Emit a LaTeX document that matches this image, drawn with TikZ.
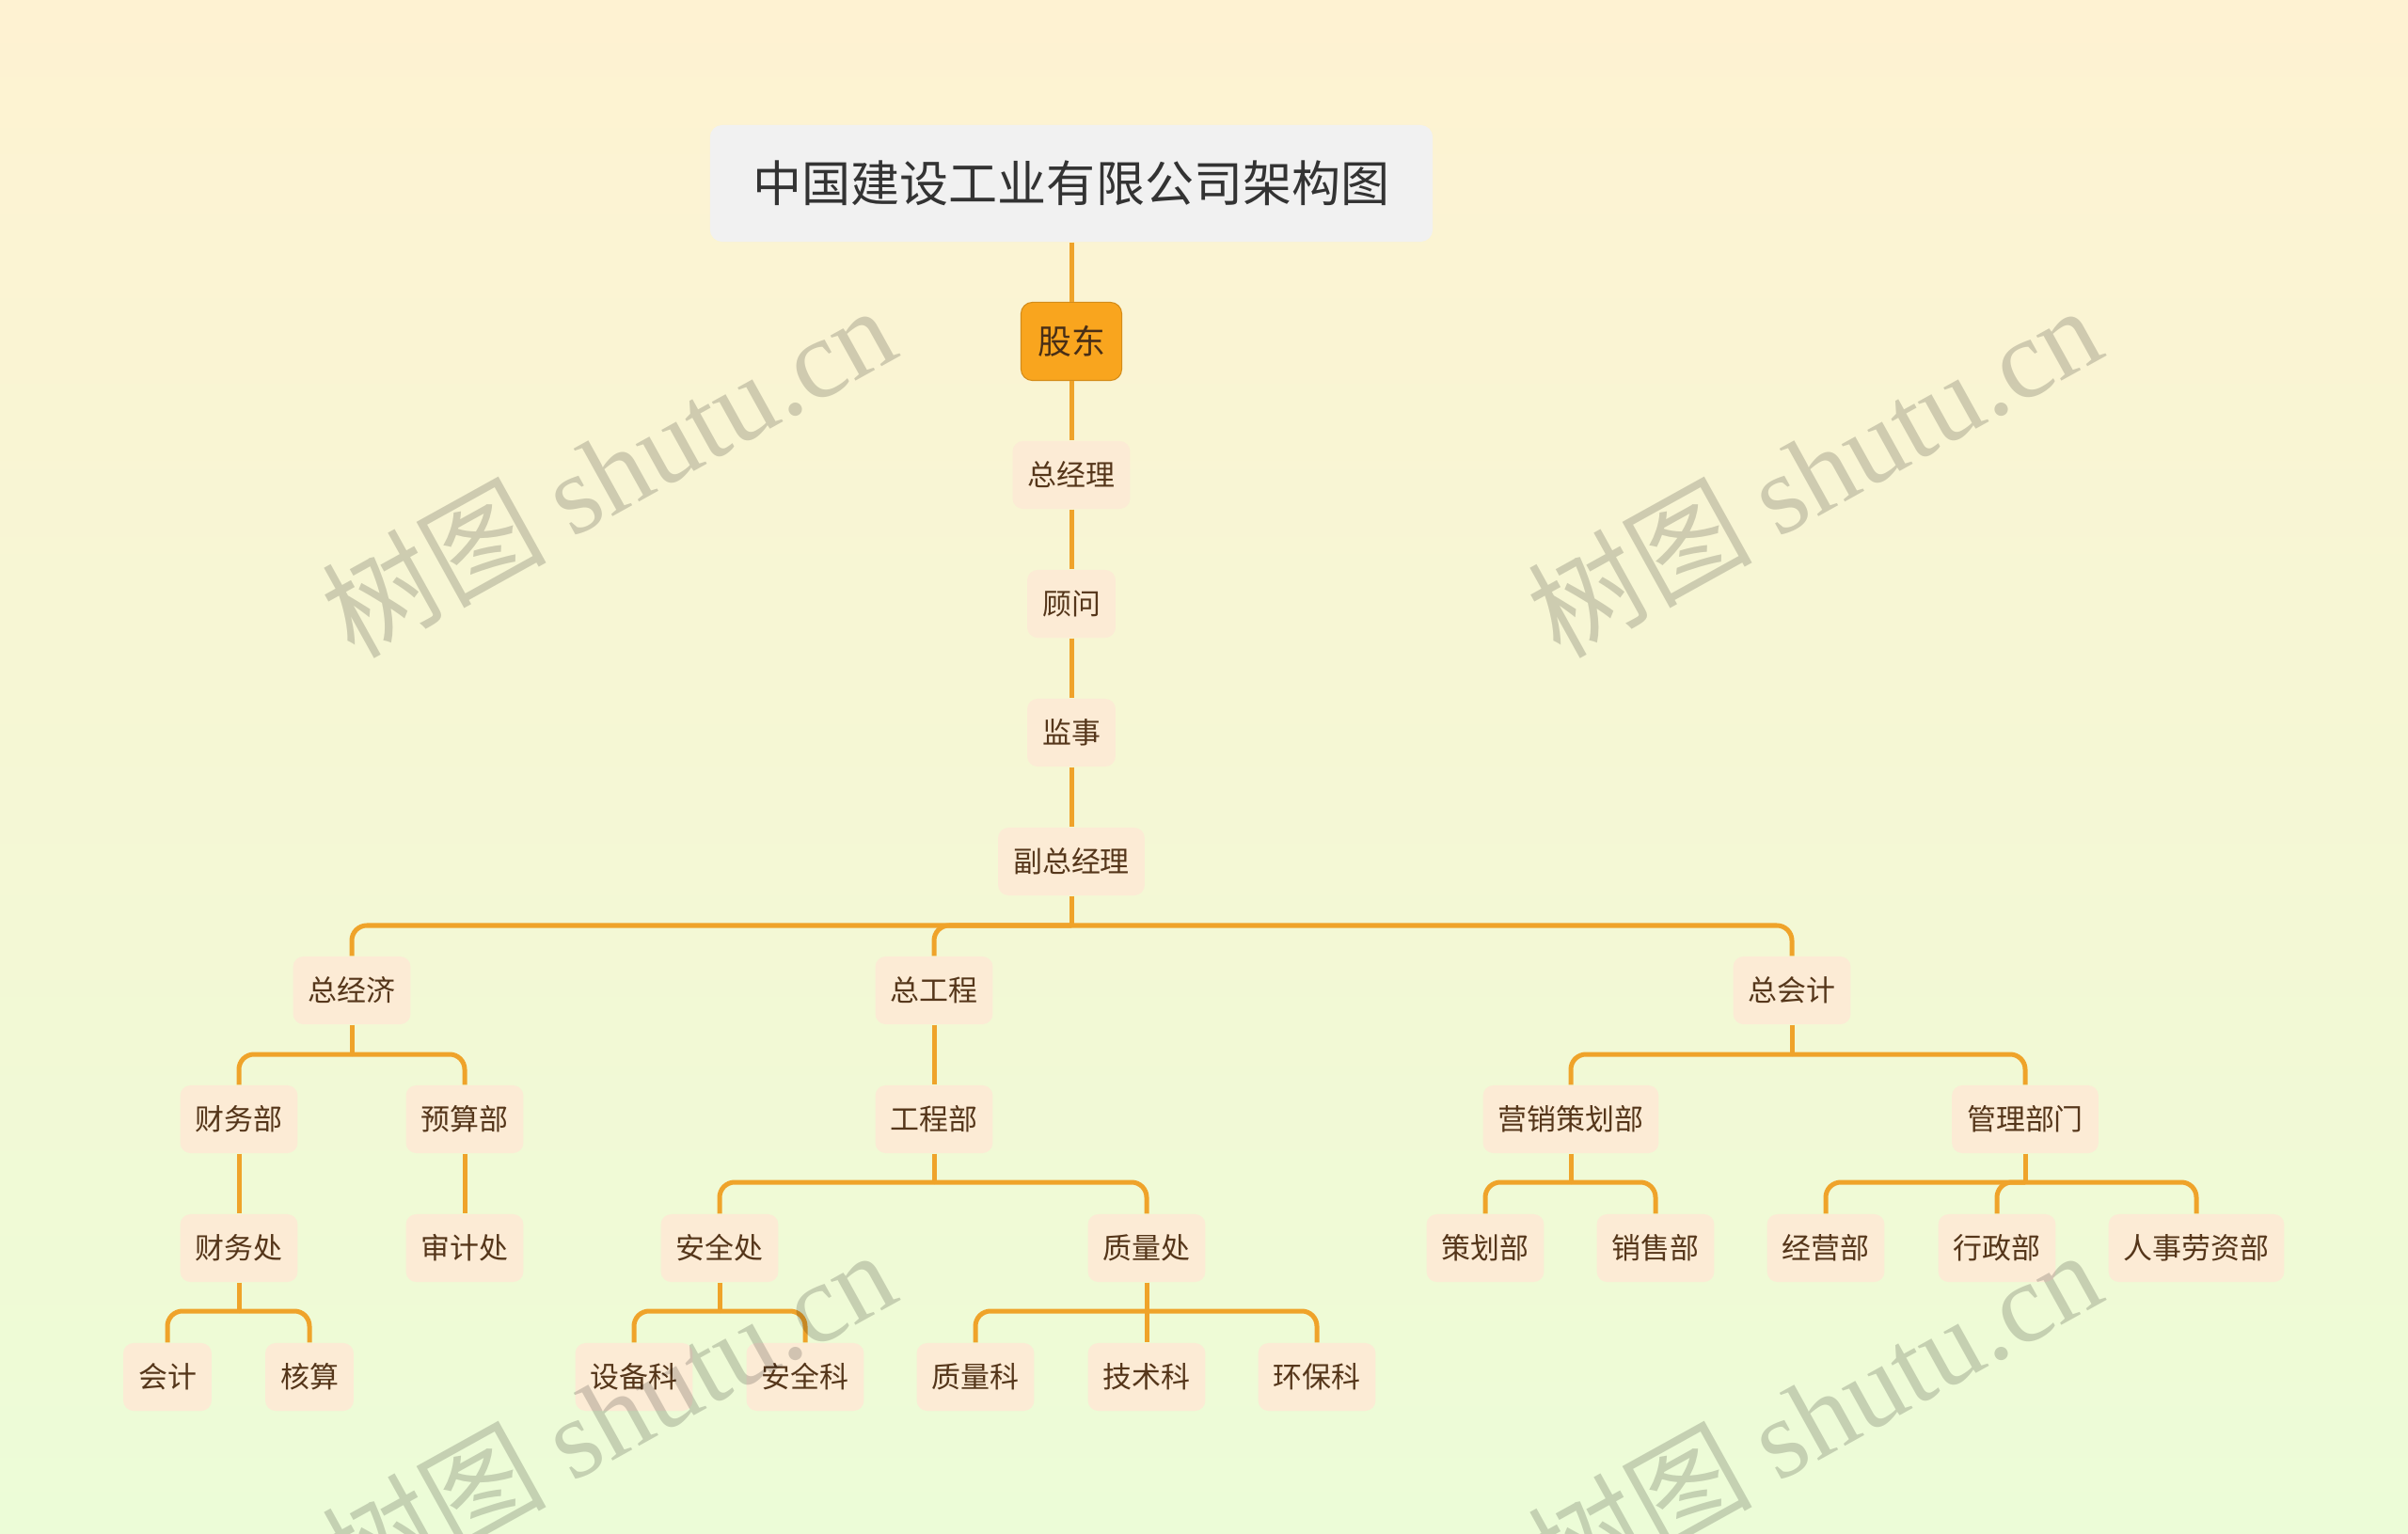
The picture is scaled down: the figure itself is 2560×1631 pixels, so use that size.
\documentclass[tikz,border=0pt]{standalone}
\usepackage{fontspec}
\setmainfont{Noto Sans CJK SC}
\newfontfamily\markcjk{Noto Sans CJK SC}
\newfontfamily\marklatin{Liberation Serif}
\definecolor{bgtop}{HTML}{FEF2D2}
\definecolor{bgbottom}{HTML}{ECFCD7}
\definecolor{linkorange}{HTML}{EFA32A}
\definecolor{unitfill}{HTML}{FCEBD5}
\definecolor{unittext}{HTML}{55361A}
\definecolor{rootfill}{HTML}{F9A51E}
\definecolor{titlefill}{HTML}{F1F1F1}
\definecolor{titletext}{HTML}{333333}

\begin{document}
\begin{tikzpicture}[x=0.01cm,y=-0.01cm,
  unit/.style={fill=unitfill, text=unittext, rounded corners=0.11cm, inner xsep=0.16cm, inner ysep=0pt,
    minimum height=0.72cm, font=\fontsize{8.8}{10}\selectfont},
  rootunit/.style={fill=rootfill, draw=rootfill!85!black, line width=0.3pt, text=unittext!85!black,
    rounded corners=0.12cm, inner sep=0pt, minimum width=1.07cm, minimum height=0.83cm,
    font=\fontsize{10.2}{12}\selectfont},
  titlebox/.style={fill=titlefill, text=titletext, rounded corners=0.13cm, inner sep=0pt,
    minimum width=7.68cm, minimum height=1.24cm, font=\fontsize{14.8}{16}\selectfont},
  link/.style={draw=linkorange, line width=0.05cm, rounded corners=0.16cm},
  watermark/.style={rotate=29, text=black, opacity=0.17, inner sep=0pt, font=\fontsize{34}{34}\selectfont}]
\shade[top color=bgtop, bottom color=bgbottom] (0,0) rectangle (2560,1631);
\useasboundingbox (0,0) rectangle (2560,1631);

\node[titlebox] (title) at (1139,195) {中国建设工业有限公司架构图};
\node[rootunit] (holder) at (1139,363) {股东};
\node[unit] (ceo) at (1139,505) {总经理};
\node[unit] (advisor) at (1139,642) {顾问};
\node[unit] (supervisor) at (1139,779) {监事};
\node[unit] (vp) at (1139,916) {副总经理};

\node[unit] (econ) at (374,1053) {总经济};
\node[unit] (engr) at (993,1053) {总工程};
\node[unit] (acct) at (1905,1053) {总会计};

\node[unit] (fin) at (254,1190) {财务部};
\node[unit] (budget) at (494,1190) {预算部};
\node[unit] (engdept) at (993,1190) {工程部};
\node[unit] (mkt) at (1670,1190) {营销策划部};
\node[unit] (mgmt) at (2153,1190) {管理部门};

\node[unit] (finoff) at (254,1327) {财务处};
\node[unit] (audit) at (494,1327) {审计处};
\node[unit] (safety) at (765,1327) {安全处};
\node[unit] (quality) at (1219,1327) {质量处};
\node[unit] (plan) at (1579,1327) {策划部};
\node[unit] (sales) at (1760,1327) {销售部};
\node[unit] (biz) at (1941,1327) {经营部};
\node[unit] (admin) at (2123,1327) {行政部};
\node[unit] (hr) at (2335,1327) {人事劳资部};

\node[unit] (kuaiji) at (178,1464) {会计};
\node[unit] (hesuan) at (329,1464) {核算};
\node[unit] (equip) at (674,1464) {设备科};
\node[unit] (safesec) at (856,1464) {安全科};
\node[unit] (qsec) at (1037,1464) {质量科};
\node[unit] (tech) at (1219,1464) {技术科};
\node[unit] (envsec) at (1400,1464) {环保科};

\foreach \a/\b in {title/holder,holder/ceo,ceo/advisor,advisor/supervisor,supervisor/vp,
  fin/finoff,budget/audit,engr/engdept,quality/tech}
  \draw[link] (\a.south) -- (\b.north);

\foreach \p/\y in {vp/984,econ/1121,acct/1121,finoff/1394,engdept/1257,safety/1394,quality/1394,mkt/1257,mgmt/1257}
  \draw[link] (\p.south) -- (\p.south |- 0,\y) coordinate (\p-bus);

\foreach \p/\c in {vp/econ,vp/engr,vp/acct,econ/fin,econ/budget,finoff/kuaiji,finoff/hesuan,
  engdept/safety,engdept/quality,safety/equip,safety/safesec,quality/qsec,quality/envsec,
  acct/mkt,acct/mgmt,mkt/plan,mkt/sales,mgmt/biz,mgmt/admin,mgmt/hr}
  \draw[link] (\p-bus) -| (\c.north);

\foreach \wx/\wy [count=\i] in {646/500,1928/500,646/1504,1928/1504}
  \node[watermark] (mark\i) at (\wx,\wy) {\markcjk 树图 \marklatin shutu.cn};
\end{tikzpicture}
\end{document}
